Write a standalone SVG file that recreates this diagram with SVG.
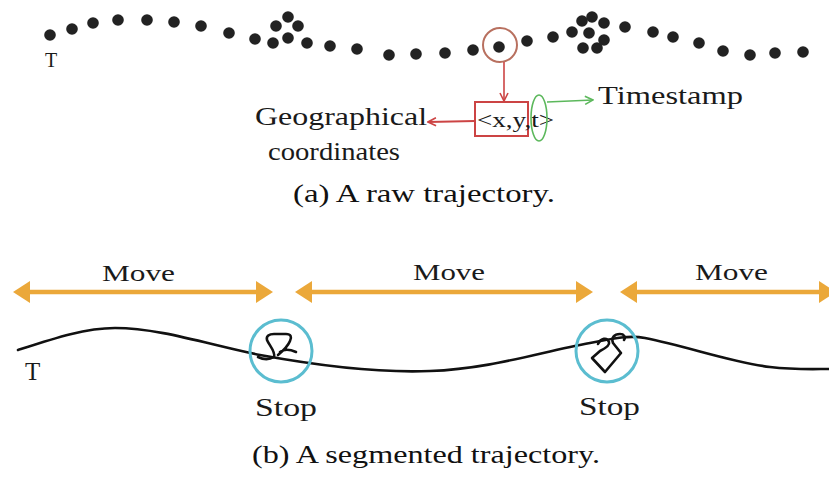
<svg xmlns="http://www.w3.org/2000/svg" width="829" height="477" viewBox="0 0 829 477">
<style>
.lbl{font-family:"Liberation Serif","DejaVu Serif",serif;fill:#1a1a1a}
.cap{font-family:"Liberation Serif","DejaVu Serif",serif;fill:#111;font-size:25px}
.dot{fill:#222}
.traj{fill:none;stroke:#111;stroke-width:2.6;stroke-linejoin:round;stroke-linecap:round}
.stopc{fill:none;stroke:#5bbdd0;stroke-width:3}
.move{stroke:#eba83a;stroke-width:4.5;fill:none}
</style>
<defs>
<marker id="oh" viewBox="0 0 17 22" refX="7" refY="11" markerWidth="17" markerHeight="22" markerUnits="userSpaceOnUse" orient="auto-start-reverse">
<path d="M0,0 L17,11 L0,22 z" fill="#eba83a"/>
</marker>
<marker id="rh" viewBox="0 0 10 10" refX="9" refY="5" markerWidth="10" markerHeight="10" markerUnits="userSpaceOnUse" orient="auto">
<path d="M1,1 L9,5 L1,9" fill="none" stroke="#cc4444" stroke-width="1.6"/>
</marker>
<marker id="gh" viewBox="0 0 10 10" refX="9" refY="5" markerWidth="10" markerHeight="10" markerUnits="userSpaceOnUse" orient="auto">
<path d="M1,1 L9,5 L1,9" fill="none" stroke="#5cb85c" stroke-width="1.6"/>
</marker>
</defs>
<rect width="829" height="477" fill="#fff"/>

<g id="raw-trajectory">
<text class="lbl" x="45" y="67" font-size="20" fill="#666">T</text>
<g id="points">
<circle class="dot" cx="50" cy="35" r="5.8"/>
<circle class="dot" cx="72" cy="29" r="5.8"/>
<circle class="dot" cx="93" cy="23" r="5.8"/>
<circle class="dot" cx="118" cy="20" r="5.8"/>
<circle class="dot" cx="147" cy="20" r="5.8"/>
<circle class="dot" cx="174" cy="22" r="5.8"/>
<circle class="dot" cx="201" cy="26" r="5.8"/>
<circle class="dot" cx="229" cy="33" r="5.8"/>
<circle class="dot" cx="255" cy="39" r="5.8"/>
<circle class="dot" cx="273" cy="43" r="5.8"/>
<circle class="dot" cx="276" cy="26" r="5.8"/>
<circle class="dot" cx="288" cy="17" r="5.8"/>
<circle class="dot" cx="298" cy="26" r="5.8"/>
<circle class="dot" cx="288" cy="38" r="5.8"/>
<circle class="dot" cx="307" cy="43" r="5.8"/>
<circle class="dot" cx="330" cy="46" r="5.8"/>
<circle class="dot" cx="357" cy="49" r="5.8"/>
<circle class="dot" cx="389" cy="55" r="5.8"/>
<circle class="dot" cx="416" cy="54" r="5.8"/>
<circle class="dot" cx="445" cy="53" r="5.8"/>
<circle class="dot" cx="473" cy="50" r="5.8"/>
<circle class="dot" cx="499" cy="47" r="5.8"/>
<circle class="dot" cx="527" cy="41" r="5.8"/>
<circle class="dot" cx="553" cy="37" r="5.8"/>
<circle class="dot" cx="572" cy="32" r="5.8"/>
<circle class="dot" cx="582" cy="21" r="5.8"/>
<circle class="dot" cx="592" cy="17" r="5.8"/>
<circle class="dot" cx="604" cy="23" r="5.8"/>
<circle class="dot" cx="589" cy="33" r="5.8"/>
<circle class="dot" cx="604" cy="40" r="5.8"/>
<circle class="dot" cx="597" cy="48" r="5.8"/>
<circle class="dot" cx="583" cy="48" r="5.8"/>
<circle class="dot" cx="625" cy="27" r="5.8"/>
<circle class="dot" cx="653" cy="32" r="5.8"/>
<circle class="dot" cx="673" cy="37" r="5.8"/>
<circle class="dot" cx="699" cy="43" r="5.8"/>
<circle class="dot" cx="723" cy="51" r="5.8"/>
<circle class="dot" cx="750" cy="55" r="5.8"/>
<circle class="dot" cx="775" cy="53" r="5.8"/>
<circle class="dot" cx="803" cy="52" r="5.8"/>
</g>
<circle id="selected" cx="500" cy="45" r="17" fill="none" stroke="#b8705f" stroke-width="2"/>
</g>

<g id="tuple">
<rect x="475" y="102" width="53" height="34" fill="none" stroke="#cc4444" stroke-width="2"/>
<text class="lbl" x="477" y="127" font-size="22" textLength="77" lengthAdjust="spacingAndGlyphs">&lt;x,y,t&gt;</text>
<ellipse cx="539" cy="118" rx="8" ry="23" fill="none" stroke="#5cb85c" stroke-width="1.6"/>
</g>
<g id="label-geo">
<text class="lbl" x="255" y="125" font-size="25" textLength="172" lengthAdjust="spacingAndGlyphs">Geographical</text>
<text class="lbl" x="268" y="160" font-size="25" textLength="132" lengthAdjust="spacingAndGlyphs">coordinates</text>
</g>
<g id="label-time">
<text class="lbl" x="598" y="104" font-size="25" textLength="145" lengthAdjust="spacingAndGlyphs">Timestamp</text>
</g>

<g id="connectors">
<line x1="504" y1="62" x2="504" y2="101" stroke="#cc4444" stroke-width="1.6" marker-end="url(#rh)"/>
<line x1="475" y1="121" x2="428" y2="122" stroke="#cc4444" stroke-width="1.8" marker-end="url(#rh)"/>
<line x1="547" y1="102" x2="593" y2="100" stroke="#5cb85c" stroke-width="1.6" marker-end="url(#gh)"/>
<line class="move" x1="23" y1="292" x2="263" y2="292" marker-start="url(#oh)" marker-end="url(#oh)"/>
<line class="move" x1="305" y1="292" x2="583" y2="292" marker-start="url(#oh)" marker-end="url(#oh)"/>
<line class="move" x1="630" y1="292" x2="826" y2="292" marker-start="url(#oh)" marker-end="url(#oh)"/>
</g>

<text class="cap" x="293" y="202" textLength="262" lengthAdjust="spacingAndGlyphs">(a) A raw trajectory.</text>

<g id="move-labels">
<text class="lbl" x="102" y="281" font-size="24" textLength="73" lengthAdjust="spacingAndGlyphs">Move</text>
<text class="lbl" x="413" y="280" font-size="24" textLength="72" lengthAdjust="spacingAndGlyphs">Move</text>
<text class="lbl" x="695" y="280" font-size="24" textLength="73" lengthAdjust="spacingAndGlyphs">Move</text>
</g>

<g id="segmented-trajectory">
<path class="traj" d="M18,350 C55,338 85,328 115,328 C160,328 210,345 260,355 C320,366 380,373 430,371 C490,369 540,352 590,343 C615,338 630,335 645,338 C690,347 730,362 770,367 C795,370 815,369 829,369"/>
<path class="traj" d="M258,357 C264,360 269,360 274,357 C276,352 269,345 267,340 C266,336 269,334 274,334 L286,334 C291,334 292,337 290,341 C288,346 284,350 278,355 M280,352 C284,349 289,349 296,352"/>
<path class="traj" d="M598,344 C601,338 607,337 609,342 C610,345 606,348 600,351 L592,358 L605,372 L621,353 L613,343 C611,338 614,334 620,334 C624,334 626,337 624,340"/>
<text class="lbl" x="25" y="380" font-size="25">T</text>
</g>
<g id="stop1">
<circle class="stopc" cx="281" cy="351" r="31"/>
<text class="lbl" x="255" y="416" font-size="26" textLength="62" lengthAdjust="spacingAndGlyphs">Stop</text>
</g>
<g id="stop2">
<circle class="stopc" cx="607" cy="351" r="31"/>
<text class="lbl" x="579" y="415" font-size="26" textLength="61" lengthAdjust="spacingAndGlyphs">Stop</text>
</g>

<text class="cap" x="252" y="463" textLength="348" lengthAdjust="spacingAndGlyphs">(b) A segmented trajectory.</text>
</svg>
